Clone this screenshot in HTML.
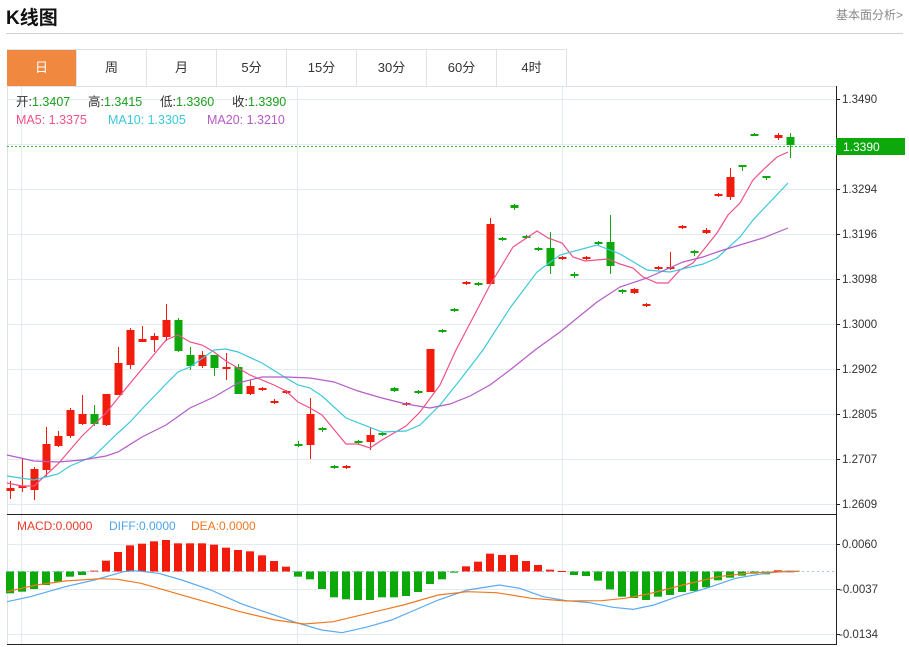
<!DOCTYPE html>
<html><head><meta charset="utf-8">
<style>
body{margin:0;width:909px;height:647px;background:#fff;font-family:"Liberation Sans","Noto Sans CJK SC",sans-serif;overflow:hidden;position:relative}
.t{position:absolute;left:6px;top:3px;font-size:19px;font-weight:bold;color:#111}
.r{position:absolute;right:6px;top:6px;font-size:12px;color:#888}
.hl{position:absolute;left:6px;top:33px;width:897px;height:1px;background:#d0d0d0}
.tabs{position:absolute;left:7px;top:49px;height:36px;display:flex;border-top:1px solid #dde3e8}
.tabs div{width:69px;height:36px;line-height:36px;text-align:center;font-size:13px;color:#333;border-right:1px solid #dde3e8}
.tabs div.a{background:#f0883f;color:#fff}
svg{position:absolute;left:0;top:0}
</style></head><body>
<div class="t">K线图</div>
<div class="r">基本面分析&gt;</div>
<div class="hl"></div>
<div class="tabs"><div class="a">日</div><div>周</div><div>月</div><div>5分</div><div>15分</div><div>30分</div><div>60分</div><div>4时</div></div>
<svg id="s" width="909" height="647" xmlns="http://www.w3.org/2000/svg" font-family="Liberation Sans, Noto Sans CJK SC, sans-serif">
<g id="g"></g>
<g font-size="12.5">
<text x="16" y="106" fill="#333">开:<tspan fill="#1a9f1a">1.3407</tspan></text>
<text x="88" y="106" fill="#333">高:<tspan fill="#1a9f1a">1.3415</tspan></text>
<text x="160" y="106" fill="#333">低:<tspan fill="#1a9f1a">1.3360</tspan></text>
<text x="232" y="106" fill="#333">收:<tspan fill="#1a9f1a">1.3390</tspan></text>
<text x="16" y="124" fill="#f0508a">MA5:  1.3375</text>
<text x="108" y="124" fill="#3cc8dc">MA10:  1.3305</text>
<text x="207" y="124" fill="#b45cc8">MA20:  1.3210</text>
</g>
<g font-size="12">
<text x="17" y="530" fill="#e83a2a">MACD:0.0000</text>
<text x="109" y="530" fill="#4aa3ec">DIFF:0.0000</text>
<text x="191" y="530" fill="#f07820">DEA:0.0000</text>
</g>
<g font-size="11.5" fill="#333">
<text x="842" y="103">1.3490</text><text x="842" y="193">1.3294</text><text x="842" y="238">1.3196</text><text x="842" y="283">1.3098</text><text x="842" y="328">1.3000</text><text x="842" y="373">1.2902</text><text x="842" y="418">1.2805</text><text x="842" y="463">1.2707</text><text x="842" y="508">1.2609</text>
<text x="842" y="548">0.0060</text><text x="839" y="593">-0.0037</text><text x="839" y="638">-0.0134</text>
</g>
<rect x="836" y="138" width="69" height="17" fill="#0ca80c"/>
<text x="843" y="151" font-size="12" fill="#fff">1.3390</text>
</svg>
<script>
var g=document.getElementById('g'),h='';
function L(x1,y1,x2,y2,c,w,d){h+='<line x1="'+x1+'" y1="'+y1+'" x2="'+x2+'" y2="'+y2+'" stroke="'+c+'" stroke-width="'+(w||1)+'"'+(d?' stroke-dasharray="'+d+'"':'')+'/>';}
[99,144,189,234,279,324,369,414,459,504,544,589,634].forEach(function(y){L(7,y+.5,836,y+.5,'#e3eaf0');});
[21,297,562].forEach(function(x){L(x+.5,87,x+.5,645,'#e3eaf0');});
L(7.5,86,7.5,645,'#dde3e8');L(7,86.5,836,86.5,'#dde3e8');
L(836.5,86,836.5,645,'#222');L(7,514.5,836,514.5,'#222');L(7,644.5,836,644.5,'#222');
[99,144,189,234,279,324,369,414,459,504,544,589,634].forEach(function(y){L(836,y+.5,840,y+.5,'#222');});
L(7,146.5,836,146.5,'#3cb83c',1,'2,2');
L(7,571.5,836,571.5,'#9cc8ec',1,'2,3');
var C=[[491,488,481,499],[487,486,458,492],[490,469,467,500],[470,444,427,477],[446,436,431,447],[436,410,408,438],[424,414,395,425],[414,424,405,426],[425,394,394,426],[395,363,347,395],[365,330,328,369],[342,339,326,342],[340,336,333,352],[337,320,304,341],[320,351,318,352],[355,366,347,370],[366,355,351,368],[355,368,355,376],[369,367,353,380],[367,394,364,394],[394,386,380,395],[390,388,387,391],[403,401,399,404],[393,391,390,394],[444,446,441,447],[445,414,398,459],[428,430,427,432],[466,468,465,469],[468,466,465,469],[441,443,440,444],[442,435,428,450],[433,435,432,436],[388,391,387,392],[405,403,402,406],[391,393,390,394],[392,349,349,392],[330,332,329,333],[309,311,308,312],[284,282,281,285],[283,285,282,286],[284,224,218,284],[238,240,237,241],[205,208,204,210],[236,238,235,239],[248,250,247,251],[248,266,232,274],[259,257,256,260],[274,276,272,278],[259,257,256,260],[242,244,241,245],[242,266,215,274],[290,292,289,294],[293,289,288,294],[306,304,303,307],[269,267,266,270],[269,267,252,270],[228,226,225,229],[251,253,250,256],[233,230,228,234],[196,194,193,197],[197,177,168,200],[165,167,165,171],[134,136,133,136],[176,178,176,180],[138,135,133,140],[137,145,133,158]];
C.forEach(function(c,i){var x=10+12*i,up=c[1]<c[0],col=up?'#f21c0c':'#0ca80c';
L(x+.5,c[2],x+.5,c[3],col);var t=Math.min(c[0],c[1]),b=Math.max(c[0],c[1]);if(b-t<2){b=t+2;}
h+='<rect x="'+(x-3.5)+'" y="'+t+'" width="8" height="'+(b-t)+'" fill="'+col+'"/>';});
function P(pts,c,w){h+='<polyline fill="none" stroke="'+c+'" stroke-width="'+(w||1.2)+'" points="'+pts.map(function(p){return p[0]+','+p[1]}).join(' ')+'"/>';}
P([[7,483],[22,486],[34,486],[58,464],[82,436],[106,413],[118,398],[142,369],[166,340],[178,335],[190,342],[202,345],[214,352],[226,361],[238,368],[250,375],[262,380],[274,385],[286,391],[298,402],[310,408],[322,415],[346,444],[358,444],[370,448],[382,440],[394,433],[406,426],[420,412],[440,385],[456,350],[477,310],[490,285],[513,247],[537,231],[548,238],[562,243],[573,257],[585,261],[608,259],[620,264],[633,268],[643,277],[657,283],[668,283],[680,270],[693,263],[717,233],[728,215],[740,203],[753,180],[765,168],[777,157],[788,152]],'#f0508a');
P([[7,476],[34,480],[58,474],[70,466],[94,456],[118,433],[130,422],[142,409],[166,384],[178,372],[190,367],[214,350],[226,349],[238,352],[262,363],[286,378],[298,385],[310,388],[322,396],[346,418],[382,432],[406,431],[420,425],[440,405],[460,380],[483,350],[510,308],[537,272],[560,255],[597,245],[620,254],[647,270],[670,272],[703,264],[717,258],[740,237],[753,220],[788,183]],'#3cc8dc');
P([[7,455],[34,461],[58,462],[82,460],[106,456],[118,452],[142,437],[166,425],[190,408],[214,397],[238,383],[262,377],[286,377],[310,378],[334,382],[358,391],[382,398],[406,404],[430,408],[450,404],[470,396],[490,385],[510,370],[535,350],[560,332],[597,302],[620,287],[647,278],[683,262],[703,257],[720,251],[763,238],[788,228]],'#b45cc8');
var M=[250,245,237,225,215,200,195,182,152,126,106,101,94,90,100,100,100,104,113,120,124,136,153,170,200,208,237,262,268,270,270,262,262,258,246,222,208,188,169,155,131,135,135,153,165,179,183,195,198,212,238,260,264,270,260,255,246,243,232,211,203,197,191,193,181,184];
M.forEach(function(z,i){var x=10+12*i,y=510+z/3,z0=571.5;var col=y<z0?'#f21c0c':'#0ca80c';var t=Math.min(y,z0),b=Math.max(y,z0);if(b-t<0.8)b=t+1;
h+='<rect x="'+(x-4)+'" y="'+t+'" width="8" height="'+(b-t)+'" fill="'+col+'"/>';});
function Z(a){return a.map(function(p){return [p[0]/1.716+7,510+p[1]/3];});}
P(Z([[0,275],[40,260],[100,230],[150,210],[200,185],[220,182],[260,190],[300,210],[350,240],[400,280],[450,310],[500,340],[540,360],[575,368],[620,350],[660,330],[700,300],[740,270],[790,240],[845,225],[880,235],[920,260],[960,272],[1000,278],[1040,292],[1075,298],[1110,285],[1150,260],[1200,235],[1250,205],[1300,190],[1340,183],[1360,184]]),'#5aaaf0');
P(Z([[0,245],[50,225],[100,213],[160,206],[190,208],[230,220],[280,245],[340,275],[400,305],[460,330],[510,342],[560,335],[620,310],[680,285],[740,255],[790,245],[840,248],[900,265],[960,273],[1020,272],[1060,265],[1100,252],[1160,225],[1220,200],[1280,188],[1360,184]]),'#f07820');
g.innerHTML=h;
</script>
</body></html>
